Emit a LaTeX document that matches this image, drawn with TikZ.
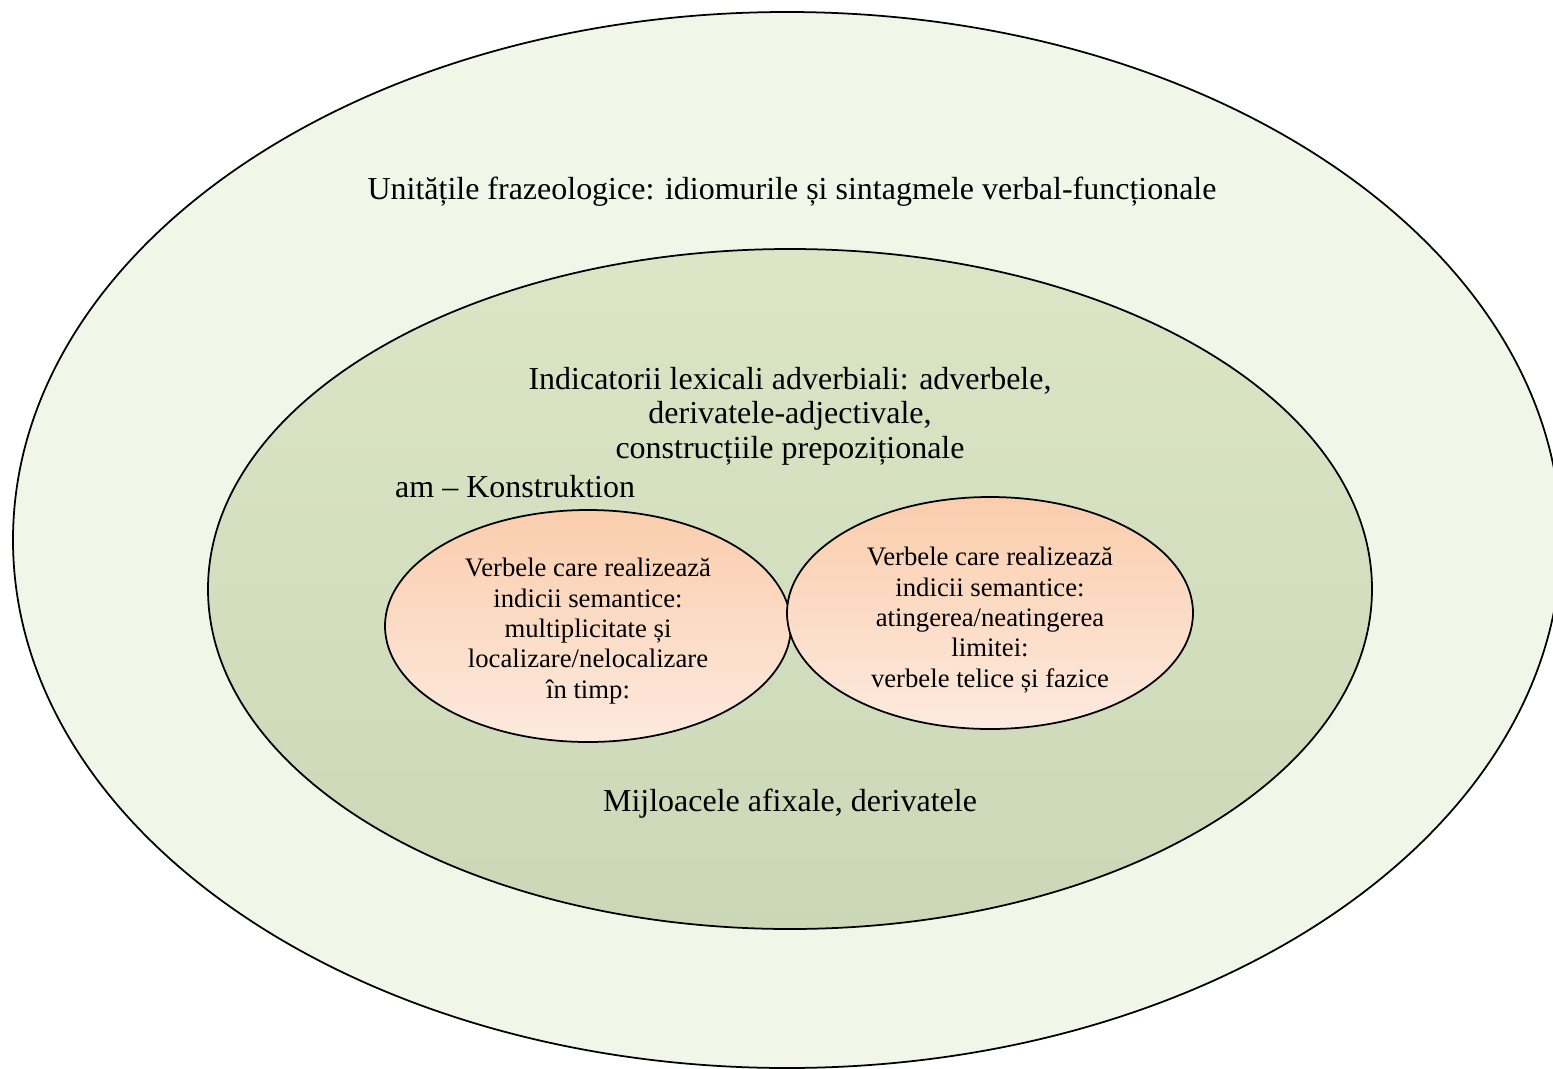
\documentclass[tikz,border=0pt]{standalone}
\usepackage{fontspec}
\setmainfont{Liberation Serif}
\definecolor{outergreen}{HTML}{F1F6E9}
\definecolor{innertop}{HTML}{DCE6C7}
\definecolor{innerbottom}{HTML}{CBD7B7}
\definecolor{peachtop}{HTML}{FACDAC}
\definecolor{peachbottom}{HTML}{FDEADF}
\tikzset{
  ring/.style={draw=black, line width=1pt},
  bigtext/.style={align=center, font=\fontsize{18.2}{19.6}\selectfont},
  smalltext/.style={align=center, font=\fontsize{15.2}{17.3}\selectfont}
}
\begin{document}
\begin{tikzpicture}[x=0.02cm,y=-0.02cm]
  \useasboundingbox (0,0) rectangle (1553,1069);
  \clip (0,0) rectangle (1553,1069);

  % ellipses, from outside in
  \path[ring, fill=outergreen] (787,540) ellipse [x radius=774, y radius=528];
  \path[ring, top color=innertop, bottom color=innerbottom] (790,589) ellipse [x radius=582, y radius=340];
  \path[ring, top color=peachtop, bottom color=peachbottom] (588,626) ellipse [x radius=203, y radius=116];
  \path[ring, top color=peachtop, bottom color=peachbottom] (990,613) ellipse [x radius=203, y radius=116];

  \begin{scope}[every node/.style={bigtext}]
    \node (frazeo) at (792,192) {Unitățile frazeologice: idiomurile și sintagmele verbal-funcționale};
    \node (lexic)  at (790,416) {Indicatorii lexicali adverbiali: adverbele,\\ derivatele-adjectivale,\\ construcțiile prepoziționale};
    \node[anchor=west] (amkon) at (389,487) {am – Konstruktion};
    \node (afix)   at (790,804) {Mijloacele afixale, derivatele};
  \end{scope}

  \begin{scope}[every node/.style={smalltext}]
    \node (multi) at (588,631) {Verbele care realizează\\ indicii semantice:\\ multiplicitate și\\ localizare/nelocalizare\\ în timp:};
    \node (limit) at (990,620) {Verbele care realizează\\ indicii semantice:\\ atingerea/neatingerea\\ limitei:\\ verbele telice și fazice};
  \end{scope}

\end{tikzpicture}
\end{document}
